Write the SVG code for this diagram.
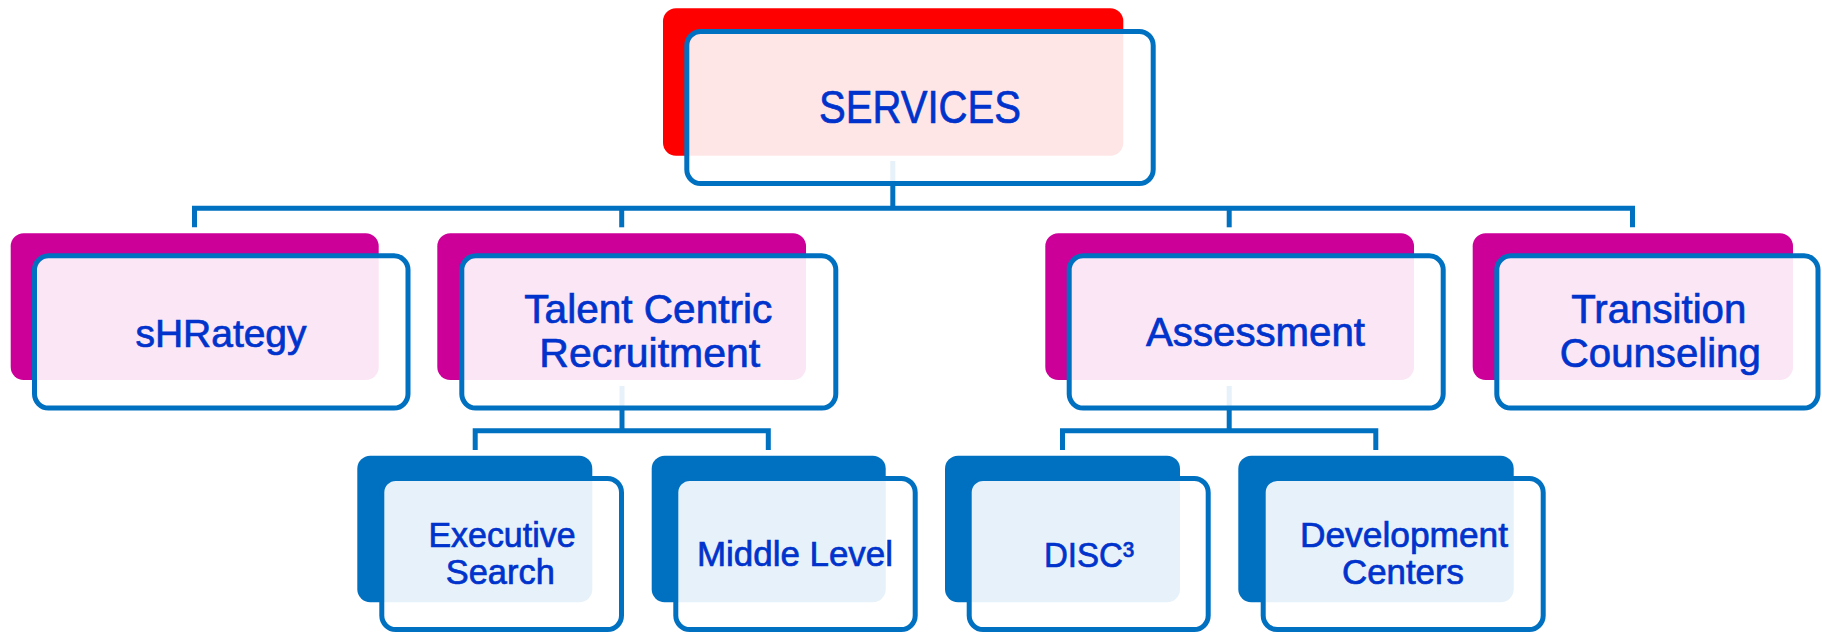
<svg xmlns="http://www.w3.org/2000/svg" width="1822" height="633" viewBox="0 0 1822 633">
<style>
.conn{fill:none;stroke:#0070C0;stroke-width:5;stroke-linejoin:miter;stroke-linecap:butt}
.front{fill:#FFFFFF;fill-opacity:0.9;stroke:#0070C0;stroke-width:5}
.red{fill:#FF0000}
.mag{fill:#CC0099}
.blu{fill:#0070C0}
.t{font-family:"Liberation Sans",Arial,sans-serif;fill:#0033CC;stroke:#0033CC;stroke-width:0.7;text-anchor:middle}
</style>
<rect width="1822" height="633" fill="#FFFFFF"/>
<g id="connectors">
<path class="conn" d="M892.8 161 V208.3"/>
<path class="conn" d="M194.5 227.3 V208.3 H1632.5 V227.3"/>
<path class="conn" d="M621.7 208.3 V227.3"/>
<path class="conn" d="M1229.2 208.3 V227.3"/>
<path class="conn" d="M622 386 V430.8"/>
<path class="conn" d="M475.2 450 V430.8 H768.3 V450"/>
<path class="conn" d="M1229.2 386 V430.8"/>
<path class="conn" d="M1062.5 450 V430.8 H1375.8 V450"/>
</g>
<g id="services">
<rect class="red" x="663" y="8.3" width="460.3" height="147.4" rx="13"/>
<rect class="front" x="686.8" y="31.5" width="466.4" height="152" rx="14"/>
<text class="t" x="920" y="122.7" font-size="47" textLength="202" lengthAdjust="spacingAndGlyphs">SERVICES</text>
</g>
<g id="shrategy">
<rect class="mag" x="10.7" y="233.3" width="368" height="146.7" rx="13"/>
<rect class="front" x="34.5" y="255.8" width="373.5" height="152.2" rx="14"/>
<text class="t" x="221" y="346.5" font-size="38" textLength="171" lengthAdjust="spacingAndGlyphs">sHRategy</text>
</g>
<g id="talent">
<rect class="mag" x="437.3" y="233.3" width="368.7" height="146.7" rx="13"/>
<rect class="front" x="461.8" y="255.8" width="374" height="152.2" rx="14"/>
<text class="t" x="648.3" y="323.3" font-size="40" textLength="248" lengthAdjust="spacingAndGlyphs">Talent Centric</text>
<text class="t" x="649.7" y="366.7" font-size="40" textLength="220.7" lengthAdjust="spacingAndGlyphs">Recruitment</text>
</g>
<g id="assessment">
<rect class="mag" x="1045.3" y="233.3" width="368.7" height="146.7" rx="13"/>
<rect class="front" x="1069.2" y="255.8" width="374" height="152.2" rx="14"/>
<text class="t" x="1255.5" y="345.7" font-size="40" textLength="219" lengthAdjust="spacingAndGlyphs">Assessment</text>
</g>
<g id="transition">
<rect class="mag" x="1472.7" y="233.3" width="320.3" height="146.7" rx="13"/>
<rect class="front" x="1496.8" y="255.8" width="321.2" height="152.2" rx="14"/>
<text class="t" x="1658.8" y="323.3" font-size="40" textLength="175" lengthAdjust="spacingAndGlyphs">Transition</text>
<text class="t" x="1660.3" y="366.7" font-size="40" textLength="201" lengthAdjust="spacingAndGlyphs">Counseling</text>
</g>
<g id="executive">
<rect class="blu" x="357.3" y="455.7" width="235" height="146.6" rx="13"/>
<rect class="front" x="381.8" y="478.5" width="239.7" height="151" rx="14"/>
<text class="t" x="502" y="546.7" font-size="35" textLength="147" lengthAdjust="spacingAndGlyphs">Executive</text>
<text class="t" x="500.3" y="584.3" font-size="35" textLength="109" lengthAdjust="spacingAndGlyphs">Search</text>
</g>
<g id="middle">
<rect class="blu" x="651.7" y="455.7" width="234" height="146.6" rx="13"/>
<rect class="front" x="675.8" y="478.5" width="239.4" height="151" rx="14"/>
<text class="t" x="795" y="565.5" font-size="35" textLength="196" lengthAdjust="spacingAndGlyphs">Middle Level</text>
</g>
<g id="disc">
<rect class="blu" x="945" y="455.7" width="235" height="146.6" rx="13"/>
<rect class="front" x="969.2" y="478.5" width="239" height="151" rx="14"/>
<text class="t" x="1089" y="567.3" font-size="35" textLength="90" lengthAdjust="spacingAndGlyphs">DISC³</text>
</g>
<g id="development">
<rect class="blu" x="1238.3" y="455.7" width="275.4" height="146.6" rx="13"/>
<rect class="front" x="1263.2" y="478.5" width="280" height="151" rx="14"/>
<text class="t" x="1404" y="546.7" font-size="35" textLength="208" lengthAdjust="spacingAndGlyphs">Development</text>
<text class="t" x="1403" y="584.3" font-size="35" textLength="122" lengthAdjust="spacingAndGlyphs">Centers</text>
</g>
</svg>
